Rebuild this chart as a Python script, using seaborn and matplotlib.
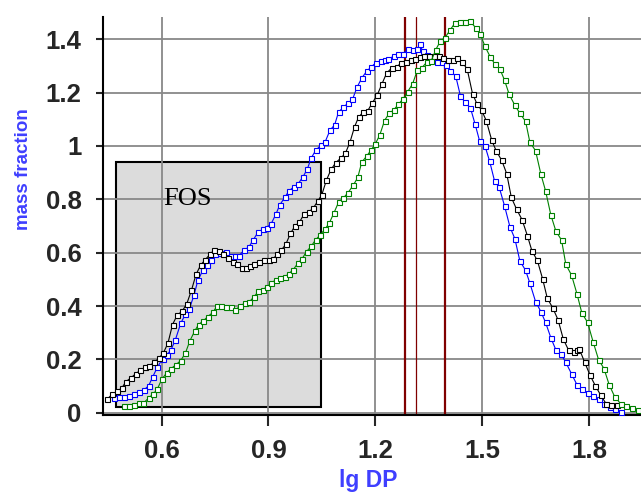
import matplotlib
matplotlib.use("Agg")
import matplotlib.pyplot as plt
import seaborn as sns
from matplotlib.patches import Rectangle

sns.set_theme(style="white")
plt.rcParams["font.family"] = ["Liberation Sans", "DejaVu Sans"]

# blue series (lg DP, mass fraction)
blue_x = [0.467, 0.482, 0.495, 0.510, 0.523, 0.538, 0.551, 0.564, 0.575, 0.588,
          0.603, 0.615, 0.627, 0.639, 0.654, 0.667, 0.678, 0.691, 0.702, 0.716,
          0.728, 0.740, 0.751, 0.764, 0.781, 0.794, 0.807, 0.818, 0.831, 0.845,
          0.858, 0.871, 0.884, 0.895, 0.908, 0.921, 0.932, 0.946, 0.958, 0.972,
          0.983, 0.996, 1.009, 1.020, 1.033, 1.047, 1.059, 1.073, 1.086, 1.097,
          1.110, 1.123, 1.136, 1.149, 1.162, 1.176, 1.188, 1.202, 1.215, 1.228,
          1.237, 1.252, 1.265, 1.278, 1.293, 1.306, 1.318, 1.325, 1.333, 1.346,
          1.361, 1.374, 1.387, 1.400, 1.411, 1.426, 1.439, 1.452, 1.467, 1.480,
          1.493, 1.508, 1.521, 1.535, 1.548, 1.563, 1.578, 1.592, 1.606, 1.622,
          1.634, 1.650, 1.665, 1.678, 1.693, 1.707, 1.721, 1.735, 1.751, 1.766,
          1.780, 1.796, 1.812, 1.827, 1.842, 1.859, 1.874, 1.889]
blue_y = [0.056, 0.061, 0.061, 0.065, 0.071, 0.079, 0.086, 0.102, 0.134, 0.170,
          0.203, 0.216, 0.237, 0.274, 0.336, 0.369, 0.389, 0.440, 0.496, 0.534,
          0.553, 0.574, 0.594, 0.599, 0.602, 0.586, 0.586, 0.589, 0.609, 0.621,
          0.649, 0.677, 0.687, 0.694, 0.709, 0.744, 0.779, 0.807, 0.832, 0.847,
          0.857, 0.882, 0.912, 0.954, 0.984, 1.002, 1.014, 1.059, 1.079, 1.127,
          1.144, 1.160, 1.174, 1.220, 1.254, 1.280, 1.295, 1.312, 1.319, 1.322,
          1.326, 1.336, 1.346, 1.346, 1.363, 1.361, 1.363, 1.381, 1.356, 1.341,
          1.323, 1.316, 1.313, 1.303, 1.281, 1.261, 1.188, 1.163, 1.143, 1.083,
          1.018, 1.000, 0.943, 0.868, 0.845, 0.775, 0.697, 0.652, 0.569, 0.534,
          0.486, 0.417, 0.379, 0.339, 0.281, 0.236, 0.221, 0.189, 0.146, 0.106,
          0.089, 0.076, 0.064, 0.051, 0.034, 0.021, 0.016, 0.004]

# black series
black_x = [0.448, 0.461, 0.476, 0.489, 0.500, 0.514, 0.527, 0.540, 0.553, 0.566,
           0.579, 0.592, 0.605, 0.618, 0.631, 0.644, 0.658, 0.671, 0.684, 0.697,
           0.710, 0.723, 0.736, 0.747, 0.760, 0.773, 0.787, 0.800, 0.813, 0.826,
           0.837, 0.848, 0.861, 0.874, 0.888, 0.901, 0.914, 0.925, 0.936, 0.949,
           0.962, 0.974, 0.987, 1.000, 1.013, 1.026, 1.039, 1.050, 1.063, 1.076,
           1.089, 1.103, 1.116, 1.129, 1.142, 1.153, 1.166, 1.179, 1.192, 1.205,
           1.219, 1.232, 1.247, 1.260, 1.273, 1.286, 1.299, 1.312, 1.325, 1.338,
           1.351, 1.364, 1.378, 1.390, 1.404, 1.417, 1.430, 1.443, 1.458, 1.473,
           1.486, 1.499, 1.512, 1.527, 1.540, 1.555, 1.569, 1.582, 1.597, 1.612,
           1.627, 1.640, 1.655, 1.670, 1.683, 1.698, 1.713, 1.728, 1.743, 1.758,
           1.765, 1.773, 1.788, 1.803, 1.818, 1.833, 1.848, 1.863, 1.878]
black_y = [0.052, 0.069, 0.081, 0.094, 0.117, 0.131, 0.146, 0.159, 0.170, 0.176,
           0.189, 0.204, 0.224, 0.261, 0.331, 0.366, 0.381, 0.409, 0.459, 0.519,
           0.554, 0.574, 0.594, 0.609, 0.606, 0.594, 0.579, 0.564, 0.559, 0.544,
           0.544, 0.549, 0.556, 0.567, 0.571, 0.574, 0.576, 0.597, 0.609, 0.632,
           0.672, 0.699, 0.714, 0.744, 0.752, 0.767, 0.794, 0.817, 0.872, 0.912,
           0.937, 0.954, 0.972, 1.014, 1.072, 1.107, 1.127, 1.132, 1.162, 1.189,
           1.233, 1.273, 1.293, 1.296, 1.311, 1.313, 1.321, 1.326, 1.333, 1.338,
           1.338, 1.338, 1.336, 1.328, 1.323, 1.323, 1.331, 1.316, 1.288, 1.196,
           1.156, 1.133, 1.093, 1.021, 0.980, 0.946, 0.896, 0.807, 0.762, 0.724,
           0.664, 0.606, 0.571, 0.501, 0.429, 0.394, 0.349, 0.276, 0.234, 0.229,
           0.234, 0.239, 0.189, 0.141, 0.101, 0.066, 0.034, 0.029, 0.029]

# green series
green_x = [0.495, 0.510, 0.523, 0.536, 0.549, 0.564, 0.577, 0.588, 0.601, 0.615,
           0.627, 0.641, 0.654, 0.667, 0.680, 0.693, 0.704, 0.717, 0.730, 0.744,
           0.755, 0.768, 0.781, 0.794, 0.807, 0.820, 0.833, 0.845, 0.859, 0.872,
           0.884, 0.895, 0.908, 0.921, 0.932, 0.946, 0.958, 0.970, 0.983, 0.994,
           1.007, 1.020, 1.033, 1.045, 1.058, 1.071, 1.084, 1.097, 1.110, 1.123,
           1.138, 1.151, 1.162, 1.176, 1.188, 1.200, 1.213, 1.226, 1.239, 1.252,
           1.265, 1.278, 1.291, 1.305, 1.318, 1.331, 1.344, 1.357, 1.370, 1.383,
           1.396, 1.411, 1.424, 1.439, 1.452, 1.465, 1.482, 1.495, 1.508, 1.523,
           1.536, 1.550, 1.563, 1.576, 1.592, 1.606, 1.622, 1.634, 1.650, 1.665,
           1.678, 1.693, 1.707, 1.723, 1.735, 1.751, 1.766, 1.780, 1.796, 1.812,
           1.827, 1.842, 1.857, 1.872, 1.889, 1.903, 1.920, 1.937]
green_y = [0.024, 0.024, 0.031, 0.036, 0.036, 0.056, 0.071, 0.089, 0.126, 0.151,
           0.166, 0.181, 0.196, 0.224, 0.271, 0.306, 0.331, 0.344, 0.361, 0.376,
           0.399, 0.401, 0.396, 0.396, 0.386, 0.399, 0.411, 0.414, 0.434, 0.455,
           0.462, 0.471, 0.486, 0.499, 0.504, 0.509, 0.522, 0.537, 0.561, 0.576,
           0.604, 0.624, 0.649, 0.666, 0.687, 0.711, 0.749, 0.789, 0.804, 0.824,
           0.852, 0.882, 0.939, 0.962, 0.984, 1.007, 1.042, 1.095, 1.122, 1.135,
           1.156, 1.176, 1.203, 1.233, 1.283, 1.293, 1.313, 1.318, 1.361, 1.393,
           1.406, 1.436, 1.461, 1.466, 1.466, 1.468, 1.443, 1.418, 1.373, 1.333,
           1.306, 1.288, 1.246, 1.193, 1.152, 1.122, 1.092, 1.014, 0.982, 0.894,
           0.832, 0.741, 0.681, 0.647, 0.556, 0.516, 0.447, 0.374, 0.339, 0.264,
           0.199, 0.166, 0.104, 0.061, 0.034, 0.026, 0.019, 0.011]

# reference lines and FOS region
ref_lines = [1.283, 1.313, 1.397]
ref_widths = [1.6, 0.9, 1.6]
fos_x = (0.4715, 1.049)
fos_y = (0.021, 0.939)
fos_label_pos = (0.674, 0.80)

x_ticks = [0.6, 0.9, 1.2, 1.5, 1.8]
y_ticks = [0, 0.2, 0.4, 0.6, 0.8, 1.0, 1.2, 1.4]
y_tick_labels = ["0", "0.2", "0.4", "0.6", "0.8", "1", "1.2", "1.4"]

fig = plt.figure(figsize=(6.41, 4.92), dpi=100)
ax = fig.add_axes([0.160, 0.1565, 0.840, 0.8095])

ax.set_axisbelow(True)
ax.grid(True, color="#888888", linewidth=1.3)

ax.add_patch(Rectangle((fos_x[0], fos_y[0]), fos_x[1] - fos_x[0], fos_y[1] - fos_y[0],
                       facecolor="#dcdcdc", edgecolor="black", linewidth=1.5, zorder=0.3))
ax.text(fos_label_pos[0], fos_label_pos[1], "FOS", family="Liberation Serif",
        fontsize=19, ha="center", va="center", color="black")

for xv, lw in zip(ref_lines, ref_widths):
    ax.axvline(xv, color="#800000", linewidth=lw, zorder=2)

for xs, ys, col in [(blue_x, blue_y, "#0000ff"),
                    (black_x, black_y, "#000000"),
                    (green_x, green_y, "#008000")]:
    sns.lineplot(x=xs, y=ys, ax=ax, color=col, linewidth=0.8, marker="s",
                 markersize=3.6, markerfacecolor="white", markeredgecolor=col,
                 markeredgewidth=0.8, sort=False, estimator=None, zorder=3)

ax.set_xlim(0.4345, 1.946)
ax.set_ylim(-0.008, 1.484)
ax.set_xticks(x_ticks)
ax.set_xticklabels([f"{t:.1f}" for t in x_ticks])
ax.set_yticks(y_ticks)
ax.set_yticklabels(y_tick_labels)

for side in ["top", "right"]:
    ax.spines[side].set_visible(False)
for side in ["left", "bottom"]:
    ax.spines[side].set_color("black")
    ax.spines[side].set_linewidth(1.5)

ax.tick_params(axis="y", direction="out", length=5, width=1.5, pad=10,
               labelsize=18.5, left=True)
ax.tick_params(axis="x", direction="out", length=8, width=1.5, pad=9,
               labelsize=18.5, bottom=True)
for lab in ax.get_xticklabels() + ax.get_yticklabels():
    lab.set_fontweight("bold")

ax.set_xlabel("lg DP", fontsize=16.5, fontweight="bold", color="#3f3fff")
ax.set_ylabel("mass fraction", fontsize=13.5, fontweight="bold", color="#3f3fff")
ax.yaxis.set_label_coords(-0.131, 0.618)
ax.xaxis.set_label_coords(0.494, -0.135)

fig.savefig("out.png", dpi=100)
